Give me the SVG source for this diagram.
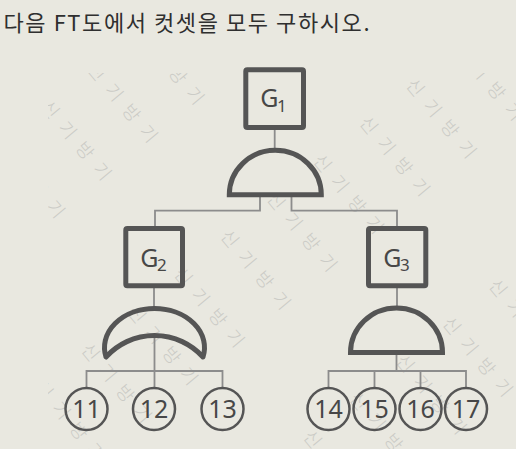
<svg xmlns="http://www.w3.org/2000/svg" width="516" height="449" viewBox="0 0 516 449">
<style>
.wm{font-family:"Noto Sans CJK KR","Noto Sans",sans-serif;font-size:18px;font-weight:300;fill:#cbcbc6;letter-spacing:3.2px}
.box{fill:none;stroke:#555;stroke-width:5}
.gate{fill:none;stroke:#555;stroke-width:5}
.con{fill:none;stroke:#8c8c8c;stroke-width:1.8}
.ev{fill:none;stroke:#555;stroke-width:2.5}
.lbl{font-family:"Noto Sans",sans-serif;fill:#474747}
.g{font-size:25px;text-anchor:end}
.sub{font-size:17px}
.num{font-family:"Noto Sans",sans-serif;font-size:25px;fill:#474747;text-anchor:middle}
.title{font-family:"Noto Sans CJK KR","Noto Sans",sans-serif;font-size:22px;fill:#2f2f2f}
</style>
<defs>
<clipPath id="wmclip"><rect x="48" y="73" width="468" height="376"/></clipPath>
</defs>
<rect width="516" height="449" fill="#e9e8e0"/>
<text class="title" x="3.5" y="31" textLength="366" lengthAdjust="spacing">다음 FT도에서 컷셋을 모두 구하시오.</text>
<g id="watermark" clip-path="url(#wmclip)">
<text class="wm" transform="translate(498.4 94.2) rotate(50)" x="-66" y="6">신 기 방 기</text>
<text class="wm" transform="translate(452 132) rotate(50)" x="-66" y="6">신 기 방 기</text>
<text class="wm" transform="translate(405.6 169.8) rotate(50)" x="-66" y="6">신 기 방 기</text>
<text class="wm" transform="translate(359.2 207.6) rotate(50)" x="-66" y="6">신 기 방 기</text>
<text class="wm" transform="translate(312.8 245.4) rotate(50)" x="-66" y="6">신 기 방 기</text>
<text class="wm" transform="translate(266.4 283.2) rotate(50)" x="-66" y="6">신 기 방 기</text>
<text class="wm" transform="translate(220 321) rotate(50)" x="-66" y="6">신 기 방 기</text>
<text class="wm" transform="translate(173.6 358.8) rotate(50)" x="-66" y="6">신 기 방 기</text>
<text class="wm" transform="translate(127.2 396.6) rotate(50)" x="-66" y="6">신 기 방 기</text>
<text class="wm" transform="translate(80.8 434.4) rotate(50)" x="-66" y="6">신 기 방 기</text>
<text class="wm" transform="translate(534.8 332.4) rotate(50)" x="-66" y="6">신 기 방 기</text>
<text class="wm" transform="translate(488.4 370.2) rotate(50)" x="-66" y="6">신 기 방 기</text>
<text class="wm" transform="translate(442 408) rotate(50)" x="-66" y="6">신 기 방 기</text>
<text class="wm" transform="translate(395.6 445.8) rotate(50)" x="-66" y="6">신 기 방 기</text>
<text class="wm" transform="translate(349.2 483.6) rotate(50)" x="-66" y="6">신 기 방 기</text>
<text class="wm" transform="translate(179.8 78.4) rotate(50)" x="-66" y="6">신 기 방 기</text>
<text class="wm" transform="translate(133.4 116.2) rotate(50)" x="-66" y="6">신 기 방 기</text>
<text class="wm" transform="translate(87 154) rotate(50)" x="-66" y="6">신 기 방 기</text>
<text class="wm" transform="translate(40.6 191.8) rotate(50)" x="-66" y="6">신 기 방 기</text>
</g>
<g id="connectors">
<path class="con" d="M274.7 130 V150"/>
<path class="con" d="M260 197 V210.7 H155 V226"/>
<path class="con" d="M291.5 197 V210.7 H397 V226"/>
<path class="con" d="M154 288 V309"/>
<path class="con" d="M154.5 336 V388 M86.5 388 V371 H222.5 V388"/>
<path class="con" d="M397 288 V308"/>
<path class="con" d="M396.5 355 V371 M328.5 388 V371 H466 V388 M374.5 371 V388 M420.5 371 V388"/>
</g>
<g id="G1">
<rect class="box" x="245.8" y="69.8" width="57.7" height="57.7" rx="1.5"/>
<text class="lbl g" x="278.5" y="107">G</text><text class="lbl sub" x="277" y="112">1</text>
</g>
<g id="AND1"><path class="gate" d="M229.3 194.8 A46 44.5 0 0 1 321.3 194.8 Z"/></g>
<g id="G2">
<rect class="box" x="125.8" y="228.5" width="56.7" height="57.3" rx="1.5"/>
<text class="lbl g" x="158.5" y="267">G</text><text class="lbl sub" x="157" y="270.5">2</text>
</g>
<g id="OR2"><path class="gate" stroke-linejoin="round" d="M106 357 A50 39 0 1 1 203 357 A65.4 65.4 0 0 0 106 357 Z"/></g>
<g id="G3">
<rect class="box" x="368.5" y="228.5" width="57.3" height="57.3" rx="1.5"/>
<text class="lbl g" x="401.5" y="267">G</text><text class="lbl sub" x="400" y="270.5">3</text>
</g>
<g id="AND3"><path class="gate" d="M350.5 352.5 A46 44.5 0 0 1 442.5 352.5 Z"/></g>
<g id="E11"><circle class="ev" cx="86.5" cy="409" r="21"/><text class="num" x="86.5" y="418">11</text></g>
<g id="E12"><circle class="ev" cx="154" cy="409" r="21"/><text class="num" x="154" y="418">12</text></g>
<g id="E13"><circle class="ev" cx="222.5" cy="409" r="21"/><text class="num" x="222.5" y="418">13</text></g>
<g id="E14"><circle class="ev" cx="328.5" cy="409" r="21"/><text class="num" x="328.5" y="418">14</text></g>
<g id="E15"><circle class="ev" cx="374.5" cy="409" r="21"/><text class="num" x="374.5" y="418">15</text></g>
<g id="E16"><circle class="ev" cx="420.5" cy="409" r="21"/><text class="num" x="420.5" y="418">16</text></g>
<g id="E17"><circle class="ev" cx="466" cy="409" r="21"/><text class="num" x="466" y="418">17</text></g>
</svg>
